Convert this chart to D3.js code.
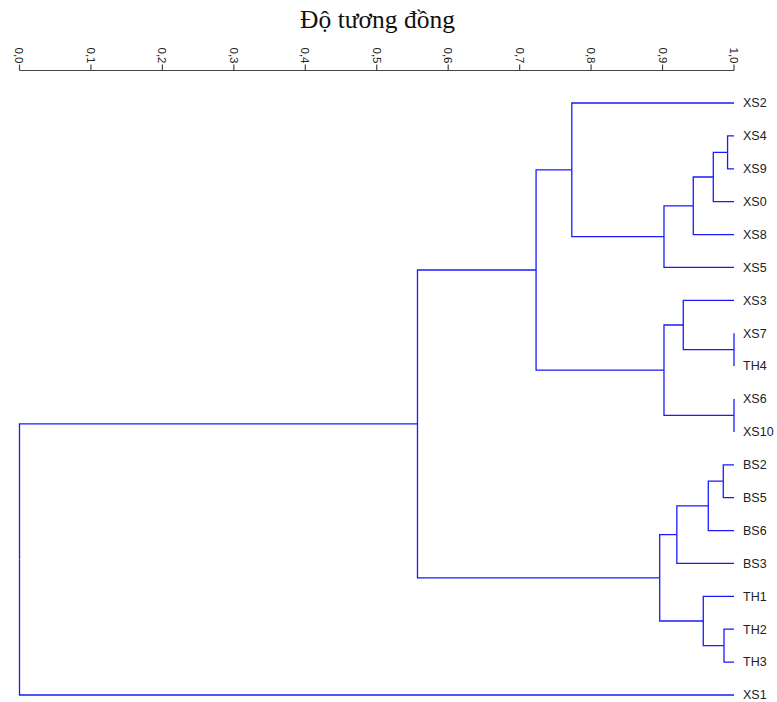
<!DOCTYPE html>
<html>
<head>
<meta charset="utf-8">
<script src="https://cdn.jsdelivr.net/npm/d3@7"></script>
<style>
  body { margin: 0; background: #fff; }
  svg { display: block; }
</style>
</head>
<body>
<svg id="chart" width="777" height="702"></svg>
<script>
// leaf order, top to bottom
var leafLabels = ["XS2", "XS4", "XS9", "XS0", "XS8", "XS5", "XS3", "XS7", "TH4", "XS6",
  "XS10", "BS2", "BS5", "BS6", "BS3", "TH1", "TH2", "TH3", "XS1"];

// merge steps: m1, m2, ... refer to earlier merges
var mergePairs = [
  ["XS4", "XS9"],   // m1
  ["m1", "XS0"],    // m2
  ["m2", "XS8"],    // m3
  ["m3", "XS5"],    // m4
  ["XS2", "m4"],    // m5
  ["XS7", "TH4"],   // m6
  ["XS3", "m6"],    // m7
  ["XS6", "XS10"],  // m8
  ["m7", "m8"],     // m9
  ["m5", "m9"],     // m10
  ["BS2", "BS5"],   // m11
  ["m11", "BS6"],   // m12
  ["m12", "BS3"],   // m13
  ["TH2", "TH3"],   // m14
  ["TH1", "m14"],   // m15
  ["m13", "m15"],   // m16
  ["m10", "m16"],   // m17
  ["m17", "XS1"]    // m18
];
var mergeSimilarity = [0.991, 0.971, 0.943, 0.902, 0.773, 1.0, 0.929, 1.0, 0.902, 0.723,
  0.985, 0.964, 0.920, 0.986, 0.957, 0.896, 0.557, 0.0];

var tickValues = [0, 0.1, 0.2, 0.3, 0.4, 0.5, 0.6, 0.7, 0.8, 0.9, 1.0];
var axisTitle = "Độ tương đồng";

var svg = d3.select("#chart");
var lineColor = "#1a1aff";

// build nested tree from merge list
var nodes = {};
leafLabels.forEach(function (l) { nodes[l] = { name: l, sim: 1 }; });
mergePairs.forEach(function (p, i) {
  var id = "m" + (i + 1);
  nodes[id] = { name: id, sim: mergeSimilarity[i], children: [nodes[p[0]], nodes[p[1]]] };
});
var root = d3.hierarchy(nodes["m" + mergePairs.length]);

var x = d3.scaleLinear().domain([0, 1]).range([19.5, 734]);
var y = d3.scalePoint().domain(leafLabels).range([103, 695]);

// leaf y from scale, internal nodes at midpoint of children
root.eachAfter(function (d) {
  d.px = x(d.data.sim);
  if (d.children) {
    d.py = d3.mean(d.children, function (c) { return c.py; });
  } else {
    d.py = y(d.data.name);
  }
});

// title
svg.append("text")
  .attr("x", 377.5)
  .attr("y", 28)
  .attr("text-anchor", "middle")
  .style("font-family", "'Liberation Serif', 'Times New Roman', serif")
  .style("font-size", "25.5px")
  .attr("fill", "#111")
  .text(axisTitle);

// axis
var gAxis = svg.append("g").attr("transform", "translate(0,70.5)");
gAxis.append("line")
  .attr("x1", x(0)).attr("x2", x(1))
  .attr("stroke", "#444").attr("stroke-width", 1.2);
gAxis.selectAll(".tick").data(tickValues).enter().append("line")
  .attr("x1", function (d) { return x(d); }).attr("x2", function (d) { return x(d); })
  .attr("y1", 0).attr("y2", -6)
  .attr("stroke", "#444").attr("stroke-width", 1.2);
gAxis.selectAll(".tlabel").data(tickValues).enter().append("text")
  .attr("transform", function (d) { return "translate(" + x(d) + ",-7)rotate(90)"; })
  .attr("text-anchor", "end")
  .attr("dy", "0.35em")
  .style("font-family", "'Liberation Sans', Arial, sans-serif")
  .style("font-size", "11.5px")
  .attr("fill", "#222")
  .text(function (d) { return d3.format(".1f")(d).replace(".", ","); });

// dendrogram links (elbow)
var gTree = svg.append("g");
root.links().forEach(function (l) {
  gTree.append("path")
    .attr("d", "M" + l.source.px + "," + l.source.py + "V" + l.target.py + "H" + l.target.px)
    .attr("fill", "none")
    .attr("stroke", lineColor)
    .attr("stroke-width", 1.3);
});

// leaf labels
svg.selectAll(".leaf").data(root.leaves()).enter().append("text")
  .attr("x", 743)
  .attr("y", function (d) { return d.py; })
  .attr("dy", "0.35em")
  .style("font-family", "'Liberation Sans', Arial, sans-serif")
  .style("font-size", "12.5px")
  .attr("fill", "#222")
  .text(function (d) { return d.data.name; });
</script>
</body>
</html>
